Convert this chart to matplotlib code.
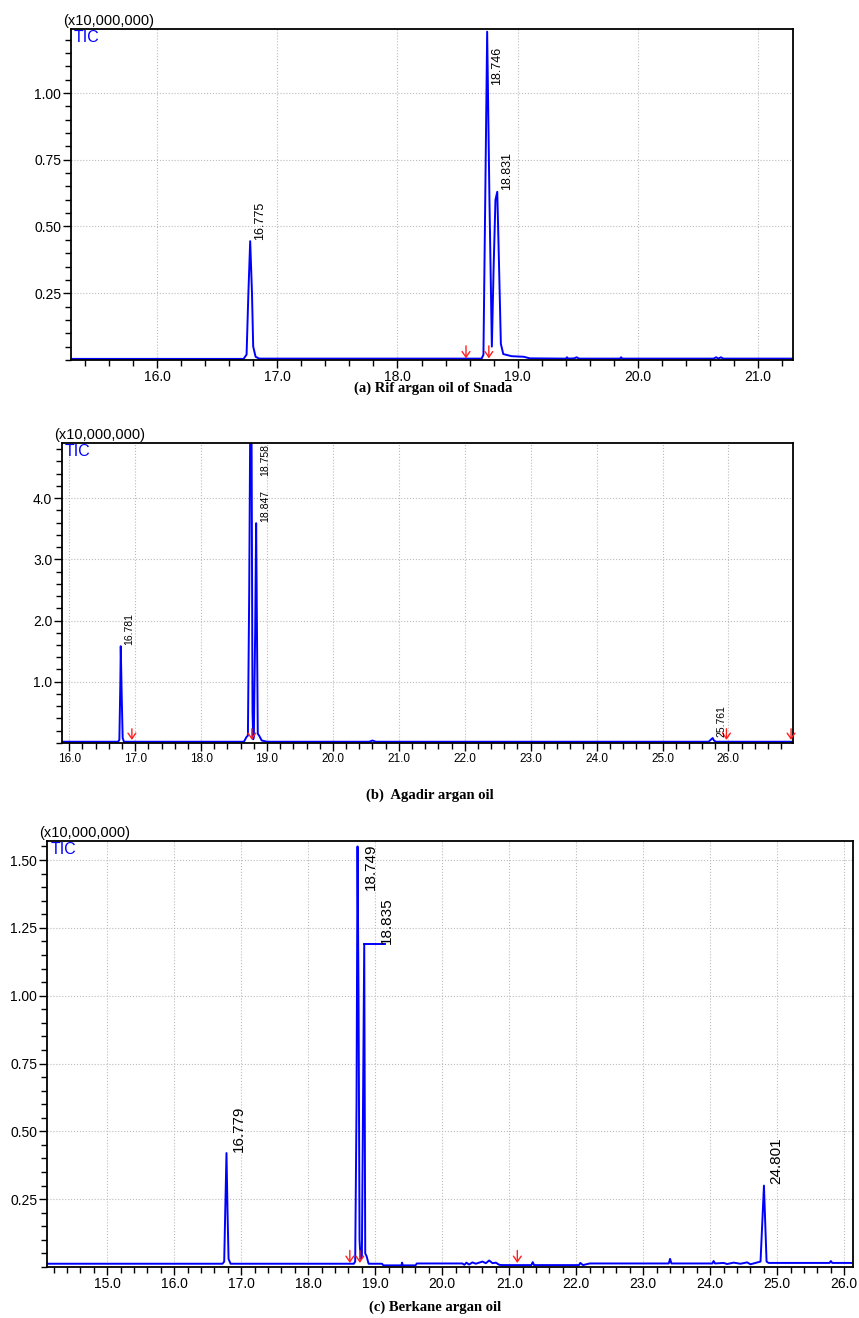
import matplotlib
matplotlib.use("Agg")
import matplotlib.pyplot as plt
from matplotlib.ticker import MultipleLocator, FormatStrFormatter

plt.rcParams["font.family"] = ["Liberation Sans", "DejaVu Sans"]

# intensities are in units of 10,000,000 counts
# (a) Rif argan oil of Snada
a_rt = [15.28, 16.72, 16.745, 16.76, 16.775, 16.79, 16.80, 16.82, 16.85,
        18.70, 18.715, 18.73, 18.746, 18.765, 18.785, 18.80, 18.815, 18.83,
        18.845, 18.86, 18.88, 18.95, 19.05, 19.10, 19.40, 19.41, 19.42,
        19.47, 19.49, 19.51, 19.85, 19.86, 19.87, 20.63, 20.65, 20.67,
        20.69, 20.71, 21.29]
a_int = [0.004, 0.004, 0.02, 0.25, 0.445, 0.25, 0.05, 0.012, 0.005,
         0.005, 0.02, 0.60, 1.23, 0.60, 0.05, 0.35, 0.60, 0.63,
         0.35, 0.06, 0.022, 0.014, 0.012, 0.006, 0.005, 0.010, 0.005,
         0.006, 0.010, 0.005, 0.005, 0.010, 0.005, 0.005, 0.010, 0.005,
         0.010, 0.005, 0.005]
a_peaks = [16.775, 18.746, 18.831]
a_heights = [0.445, 1.23, 0.63]
a_marks = [18.57, 18.76]

# (b) Agadir argan oil
b_rt = [15.88, 16.74, 16.76, 16.775, 16.781, 16.795, 16.81, 16.83,
        18.65, 18.69, 18.71, 18.73, 18.745, 18.765, 18.78, 18.79, 18.80,
        18.82, 18.835, 18.85, 18.86, 18.88, 18.92, 19.00, 20.55, 20.60,
        20.65, 25.70, 25.74, 25.761, 25.78, 25.81, 27.00]
b_int = [0.02, 0.02, 0.05, 1.00, 1.58, 0.80, 0.08, 0.02,
         0.02, 0.10, 0.12, 2.50, 5.20, 5.20, 0.50, 0.06, 0.10,
         1.80, 3.59, 1.50, 0.15, 0.12, 0.04, 0.02, 0.02, 0.04,
         0.02, 0.02, 0.06, 0.08, 0.04, 0.02, 0.02]
b_peaks = [16.781, 18.758, 18.847, 25.761]
b_heights = [1.58, 5.20, 3.59, 0.08]
b_marks = [16.95, 18.77, 25.97, 26.95]

# (c) Berkane argan oil
c_rt = [14.10, 16.72, 16.745, 16.76, 16.779, 16.795, 16.81, 16.84,
        18.68, 18.70, 18.72, 18.735, 18.75, 18.765, 18.78, 18.80, 18.835,
        18.85, 18.87, 18.90, 19.10, 19.12, 19.39, 19.40, 19.41, 19.60,
        19.62, 20.30, 20.33, 20.36, 20.40, 20.45, 20.50, 20.60, 20.65,
        20.70, 20.75, 20.80, 20.85, 20.90, 21.33, 21.35, 21.37, 22.04,
        22.06, 22.10, 22.20, 23.38, 23.40, 23.42, 24.03, 24.05, 24.07,
        24.20, 24.25, 24.35, 24.45, 24.55, 24.60, 24.75, 24.801, 24.84,
        24.87, 25.78, 25.80, 25.82, 26.13]
c_int = [0.012, 0.012, 0.02, 0.20, 0.42, 0.20, 0.03, 0.012,
         0.012, 0.02, 0.60, 1.55, 1.00, 0.10, 0.03, 0.04, 1.19,
         0.05, 0.04, 0.012, 0.012, 0.006, 0.006, 0.016, 0.006, 0.006,
         0.013, 0.013, 0.008, 0.016, 0.009, 0.017, 0.012, 0.02, 0.014,
         0.024, 0.014, 0.016, 0.008, 0.007, 0.007, 0.018, 0.007, 0.007,
         0.015, 0.007, 0.013, 0.013, 0.03, 0.013, 0.013, 0.022, 0.013,
         0.015, 0.011, 0.016, 0.012, 0.017, 0.010, 0.02, 0.30, 0.02,
         0.015, 0.015, 0.022, 0.015, 0.015]
c_peaks = [16.779, 18.749, 24.801]
c_heights = [0.42, 1.55, 0.30]
c_leader_peak = 18.835
c_leader_height = 1.19
c_leader_end = 19.15
c_marks = [18.62, 18.77, 21.12]

BLUE = "#0000ff"
RED = "#ff2020"


def setup_axes(ax, xlim, ylim, ymajor, yminor, yfmt, xsize):
    ax.set_xlim(*xlim)
    ax.set_ylim(*ylim)
    ax.xaxis.set_major_locator(MultipleLocator(1.0))
    ax.xaxis.set_minor_locator(MultipleLocator(0.2))
    ax.xaxis.set_major_formatter(FormatStrFormatter("%.1f"))
    ax.yaxis.set_major_locator(MultipleLocator(ymajor))
    ax.yaxis.set_minor_locator(MultipleLocator(yminor))
    ax.yaxis.set_major_formatter(FormatStrFormatter(yfmt))
    ax.grid(which="major", color="#bbbbbb", linestyle=":", linewidth=0.8)
    ax.tick_params(which="both", direction="out", top=False, right=False,
                   color="black")
    ax.tick_params(which="major", length=6, width=1)
    ax.tick_params(which="minor", length=4, width=1)
    ax.tick_params(axis="x", labelsize=xsize, pad=1)
    ax.tick_params(axis="y", labelsize=10, pad=1)
    # the 0 label is not printed on the intensity axis
    ax.set_yticks([t for t in ax.get_yticks() if 0 < t <= ylim[1]])
    for s in ax.spines.values():
        s.set_linewidth(1.3)
    ax.text(0.004, 0.997, "TIC", transform=ax.transAxes, color=BLUE,
            fontsize=11.5, ha="left", va="top")
    ax.annotate("(x10,000,000)", xy=(0, 1), xycoords="axes fraction",
                xytext=(-6, 1), textcoords="offset points",
                ha="left", va="bottom", fontsize=10.5)


def label_peaks(ax, peaks, heights, size, dx):
    ymax = ax.get_ylim()[1]
    labels = []
    for x, h in zip(peaks, heights):
        t = ax.annotate(f"{x:.3f}", xy=(x, min(h, ymax)), xytext=(dx, 1),
                        textcoords="offset points", rotation=90,
                        ha="center", va="bottom", fontsize=size)
        labels.append((t, x))
    return labels


def fix_overflow(fig, ax, labels, dx, drop):
    # labels that would run past the frame are hung from the top edge
    fig.canvas.draw()
    top = ax.get_window_extent().y1
    for t, x in labels:
        if t.get_window_extent().y1 > top:
            t.xy = (x, ax.get_ylim()[1])
            t.set_va("top")
            t.xyann = (dx, -drop)


def mark_arrows(ax, xs, base, length):
    for x in xs:
        ax.annotate("", xy=(x, base), xytext=(0, length),
                    textcoords="offset points",
                    arrowprops=dict(arrowstyle="->,head_length=0.4,head_width=0.28",
                                    color=RED, lw=1.0, shrinkA=0, shrinkB=0))


fig = plt.figure(figsize=(8.59, 13.18), dpi=100)
ax_a = fig.add_axes([0.0827, 0.7269, 0.8405, 0.2511])
ax_b = fig.add_axes([0.0722, 0.4363, 0.8510, 0.2276])
ax_c = fig.add_axes([0.0547, 0.0387, 0.9383, 0.3232])

# (a)
setup_axes(ax_a, (15.285, 21.29), (0, 1.24), 0.25, 0.05, "%.2f", 10)
ax_a.plot(a_rt, a_int, color=BLUE, lw=1.4)
mark_arrows(ax_a, a_marks, 0.006, 9)
lab_a = label_peaks(ax_a, a_peaks, a_heights, 9, 7)

# (b)
setup_axes(ax_b, (15.89, 26.98), (0, 4.9), 1.0, 0.2, "%.1f", 8.5)
ax_b.plot(b_rt, b_int, color=BLUE, lw=1.4)
mark_arrows(ax_b, b_marks, 0.05, 8)
lab_b = label_peaks(ax_b, b_peaks, b_heights, 7.5, 6)

# (c)
setup_axes(ax_c, (14.1, 26.13), (0, 1.57), 0.25, 0.05, "%.2f", 10)
ax_c.plot(c_rt, c_int, color=BLUE, lw=1.4)
ax_c.plot([c_leader_peak, c_leader_end], [c_leader_height, c_leader_height],
          color=BLUE, lw=1.4)
ax_c.annotate(f"{c_leader_peak:.3f}", xy=(c_leader_end, c_leader_height),
              xytext=(1, 0), textcoords="offset points", rotation=90,
              ha="center", va="bottom", fontsize=11)
mark_arrows(ax_c, c_marks, 0.015, 9)
lab_c = label_peaks(ax_c, c_peaks, c_heights, 11, 9)

fix_overflow(fig, ax_a, lab_a, 7, 13)
fix_overflow(fig, ax_b, lab_b, 10, 1)
fix_overflow(fig, ax_c, lab_c, 9, 2)

cap = dict(fontsize=10.5, fontweight="bold", ha="center", va="center",
           family=["Liberation Serif", "DejaVu Serif"])
fig.text(433 / 859, 1 - 388 / 1318, "(a) Rif argan oil of Snada", **cap)
fig.text(430 / 859, 1 - 795 / 1318, "(b)  Agadir argan oil", **cap)
fig.text(435 / 859, 1 - 1307 / 1318, "(c) Berkane argan oil", **cap)

fig.savefig("out.png", dpi=100)
